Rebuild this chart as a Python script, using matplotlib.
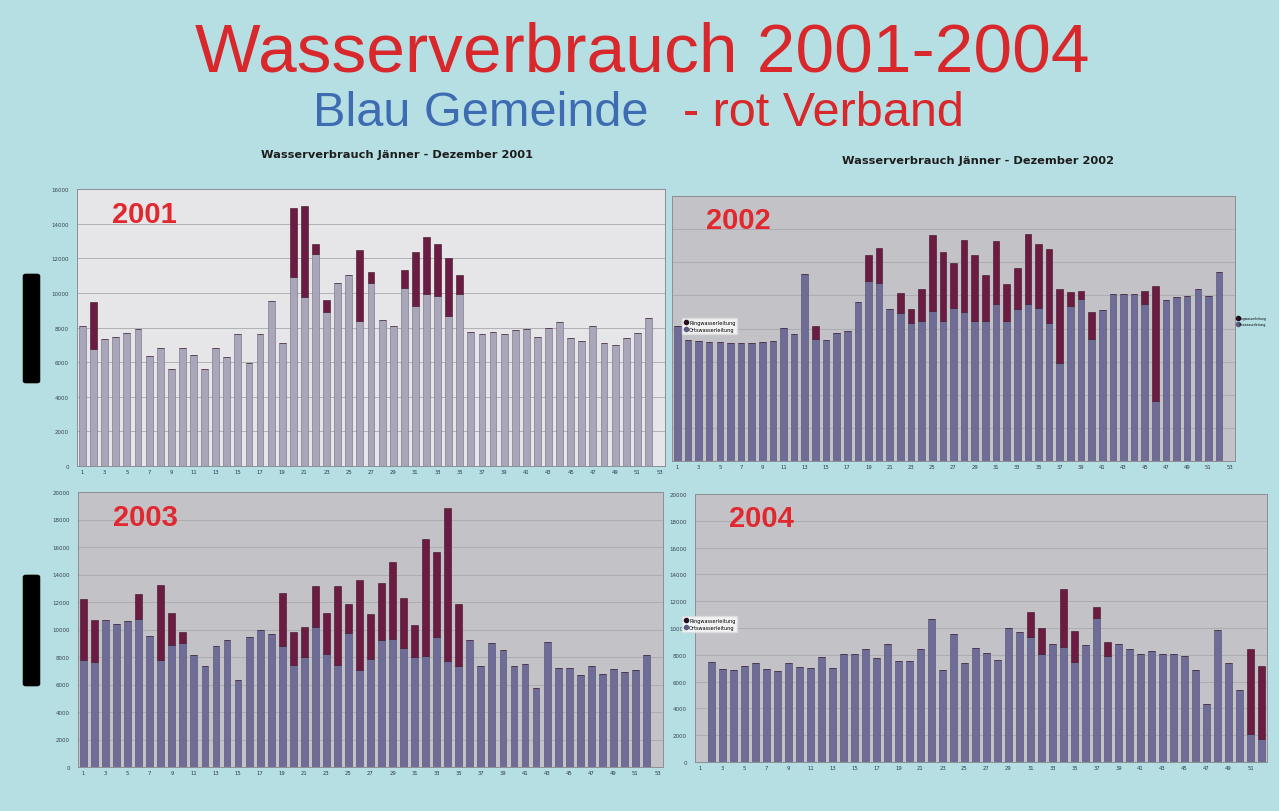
import numpy as np
import matplotlib
matplotlib.use("Agg")
import matplotlib.pyplot as plt
from matplotlib.lines import Line2D
from matplotlib.patches import FancyBboxPatch

W, H = 1279, 812

# weekly consumption (m3): Gemeinde (blue/grey part) and Verband (red part on top)
gem_2001 = [8100, 6750, 7330, 7480, 7710, 7940, 6360, 6840, 5590, 6840,
            6400, 5630, 6840, 6320, 7610, 5940, 7610, 9540, 7130, 10890,
            9740, 12240, 8870, 10560, 11030, 8390, 10560, 8440, 8100, 10310,
            9250, 9930, 9830, 8680, 9930, 7750, 7610, 7750, 7610, 7870,
            7940, 7480, 8000, 8290, 7420, 7230, 8100, 7090, 6980, 7420,
            7670, 8520, 0]
red_2001 = [0, 2700, 0, 0, 0, 0, 0, 0, 0, 0,
            0, 0, 0, 0, 0, 0, 0, 0, 0, 3990,
            5300, 580, 730, 0, 0, 4100, 660, 0, 0, 1020,
            3090, 3280, 2990, 3310, 1100, 0, 0, 0, 0, 0,
            0, 0, 0, 0, 0, 0, 0, 0, 0, 0,
            0, 0, 0]

gem_2002 = [8150, 7300, 7250, 7200, 7200, 7150, 7100, 7150, 7200, 7250,
            8050, 7690, 11270, 7340, 7300, 7750, 7850, 9600, 10870, 10770,
            9160, 8950, 8350, 8450, 9050, 8450, 9260, 8990, 8450, 8450,
            9460, 8450, 9160, 9460, 9260, 8350, 5940, 9360, 9760, 7340,
            9120, 10060, 10060, 10060, 9460, 3620, 9720, 9920, 9960, 10400,
            9960, 11410, 0]
red_2002 = [0, 0, 0, 0, 0, 0, 0, 0, 0, 0,
            0, 0, 0, 810, 0, 0, 0, 0, 1550, 2090,
            0, 1170, 850, 1950, 4570, 4170, 2710, 4350, 3960, 2760,
            3820, 2210, 2510, 4220, 3820, 4470, 4460, 840, 500, 1650,
            0, 0, 0, 0, 800, 6940, 0, 0, 0, 0,
            0, 0, 0]

gem_2003 = [7810, 7640, 10670, 10380, 10620, 10790, 9500, 7760, 8850, 9020,
            8120, 7320, 8780, 9210, 6300, 9460, 9940, 9650, 8780, 7390,
            8000, 10180, 8190, 7390, 9750, 7030, 7880, 9210, 9330, 8680,
            8000, 8050, 9460, 7710, 7320, 9210, 7320, 9020, 8490, 7320,
            7520, 5770, 9090, 7220, 7220, 6720, 7320, 6790, 7150, 6910,
            7080, 8120, 0]
red_2003 = [4430, 3030, 0, 0, 0, 1770, 0, 5450, 2350, 800,
            0, 0, 0, 0, 0, 0, 0, 0, 3880, 2430,
            2180, 2960, 3010, 5750, 2130, 6550, 3220, 4170, 5580, 3610,
            2300, 8560, 6180, 11150, 4560, 0, 0, 0, 0, 0,
            0, 0, 0, 0, 0, 0, 0, 0, 0, 0,
            0, 0, 0]

gem_2004 = [0, 7450, 6960, 6880, 7130, 7380, 6960, 6780, 7380, 7080,
            7030, 7830, 7030, 8030, 8030, 8450, 7780, 8820, 7530, 7530,
            8450, 10680, 6880, 9520, 7380, 8520, 8120, 7630, 10010, 9690,
            9320, 8080, 8770, 8570, 7450, 8700, 10760, 7880, 8820, 8450,
            8030, 8270, 8030, 8030, 7880, 6880, 4300, 9860, 7380, 5340,
            2060, 1740]
red_2004 = [0, 0, 0, 0, 0, 0, 0, 0, 0, 0,
            0, 0, 0, 0, 0, 0, 0, 0, 0, 0,
            0, 0, 0, 0, 0, 0, 0, 0, 0, 0,
            1860, 1940, 0, 4350, 2360, 0, 800, 1060, 0, 0,
            0, 0, 0, 0, 0, 0, 0, 0, 0, 0,
            6340, 5390]

legend_labels = ["Ringwasserleitung", "Ortswasserleitung"]

BG = "#b5dfe2"
RED = "#6c1c42"


def rect(left, top, right, bottom):
    # pixel box -> figure fraction
    return [left / W, 1 - bottom / H, (right - left) / W, (bottom - top) / H]


def draw_panel(fig, box, gem, red, ymax, face, bar_color, edge_color, show_yticks=True):
    ax = fig.add_axes(rect(*box))
    weeks = np.arange(1, len(gem) + 1)
    ax.set_facecolor(face)
    ax.bar(weeks, gem, width=0.62, color=bar_color, edgecolor=edge_color, linewidth=0.4, zorder=3)
    ax.bar(weeks, red, bottom=gem, width=0.62, color=RED, edgecolor="#3c0f25", linewidth=0.4, zorder=3)
    ax.set_xlim(0.5, len(gem) + 0.5)
    ax.set_ylim(0, ymax)
    ax.set_yticks(np.arange(0, ymax + 1, 2000))
    ax.grid(True, axis="y", color="#a9a9ad", linewidth=0.6, zorder=0)
    ax.set_xticks(weeks[::2])
    ax.set_xticklabels([str(w) for w in weeks[::2]], fontsize=3.8, color="#2d3a55")
    ax.tick_params(axis="both", length=0, pad=2)
    if show_yticks:
        ax.tick_params(axis="y", labelsize=4, labelcolor="#3a4450", pad=6)
    else:
        ax.set_yticklabels([])
    for s in ax.spines.values():
        s.set_color("#8e8e94")
        s.set_linewidth(0.7)
    return ax


fig = plt.figure(figsize=(W / 100, H / 100), dpi=100, facecolor=BG)

fig.text(642 / W, 1 - 54 / H, "Wasserverbrauch 2001-2004", fontsize=50, color="#d8282c",
         ha="center", va="center", family="Liberation Sans")
fig.text(313 / W, 1 - 113 / H, "Blau Gemeinde", fontsize=35, color="#3e6cb3",
         ha="left", va="center", family="Liberation Sans")
fig.text(683 / W, 1 - 113 / H, "- rot Verband", fontsize=35, color="#d8282c",
         ha="left", va="center", family="Liberation Sans")

fig.text(397 / W, 1 - 155 / H, "Wasserverbrauch Jänner - Dezember 2001", fontsize=8.2,
         weight="bold", color="#1d1d1d", ha="center", va="center")
fig.text(978 / W, 1 - 161 / H, "Wasserverbrauch Jänner - Dezember 2002", fontsize=8.2,
         weight="bold", color="#1d1d1d", ha="center", va="center")

ax1 = draw_panel(fig, (77, 190, 665, 467), gem_2001, red_2001, 16000,
                 "#e6e6e8", "#aaa6ba", "#6e6b80")
ax2 = draw_panel(fig, (672, 197, 1235, 462), gem_2002, red_2002, 16000,
                 "#c3c2c7", "#6f6d97", "#4c4a6e", show_yticks=False)
ax3 = draw_panel(fig, (78, 493, 663, 768), gem_2003, red_2003, 20000,
                 "#c3c2c7", "#6f6d97", "#4c4a6e")
ax4 = draw_panel(fig, (695, 495, 1267, 763), gem_2004, red_2004, 20000,
                 "#c3c2c7", "#6f6d97", "#4c4a6e")

for ax, year in [(ax1, "2001"), (ax2, "2002"), (ax3, "2003"), (ax4, "2004")]:
    ax.text(0.06, 0.91, year, transform=ax.transAxes, fontsize=21, weight="bold",
            color="#e0282e", ha="left", va="center", family="Liberation Sans", zorder=5)

handles = [Line2D([], [], marker="o", linestyle="", markersize=3, color="#2a1020"),
           Line2D([], [], marker="o", linestyle="", markersize=3, color="#5d5b80")]
for ax, top in [(ax2, 316), (ax4, 614)]:
    leg = ax.legend(handles, legend_labels, loc="upper left", fontsize=3.6,
                    bbox_to_anchor=(679 / W, 1 - top / H), bbox_transform=fig.transFigure,
                    frameon=True, fancybox=False, handletextpad=0.3, borderpad=0.4,
                    labelspacing=0.5, handlelength=0.8)
    leg.get_frame().set_facecolor("white")
    leg.get_frame().set_edgecolor("#dddddd")
    leg.set_zorder(6)

fig.legend(handles, legend_labels, loc="upper left", fontsize=2.2, frameon=False,
           bbox_to_anchor=(1236 / W, 1 - 316 / H), handletextpad=0.1,
           labelspacing=0.8, handlelength=0.7, borderpad=0.1, borderaxespad=0.1)

# the dark vertical axis-title blocks on the left
for top, bottom in [(277, 382), (578, 685)]:
    fig.patches.append(FancyBboxPatch((26 / W, 1 - bottom / H), 11 / W, (bottom - top) / H,
                                      boxstyle="round,pad=0.002", transform=fig.transFigure,
                                      facecolor="black", edgecolor="black"))

fig.savefig("out.png", dpi=100, facecolor=BG)
